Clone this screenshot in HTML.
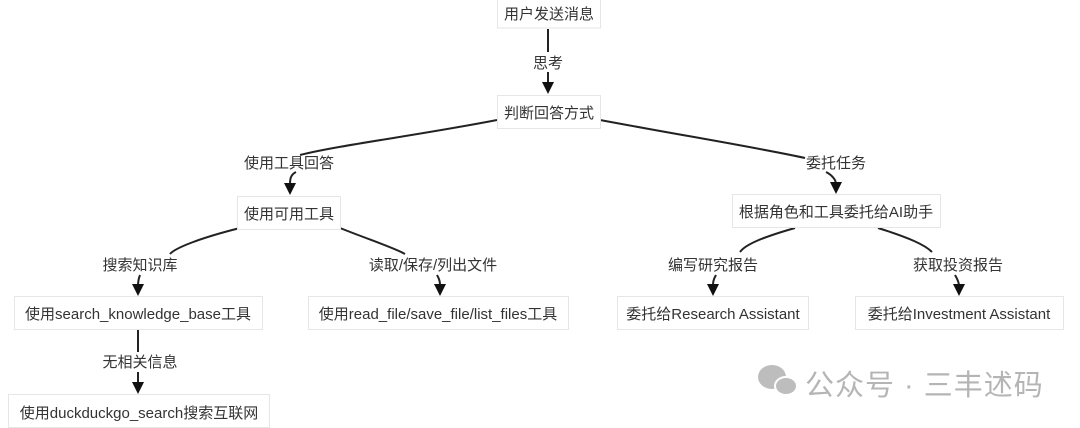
<!DOCTYPE html>
<html><head><meta charset="utf-8"><style>
html,body{margin:0;padding:0;background:#fff;}
svg{display:block;}
text{font-family:"Liberation Sans","Noto Sans CJK SC",sans-serif;font-size:15px;fill:#333;}
.b{fill:#fff;stroke:#e6e6e6;stroke-width:1;}
.l{fill:none;stroke:#222;stroke-width:2;}
</style></head><body>
<svg width="1080" height="428" viewBox="0 0 1080 428" xmlns="http://www.w3.org/2000/svg">
<path class="l" d="M548,29 L548,52"/>
<path class="l" d="M548,72 L548,84"/><path d="M542,82 L554,82 L548,94 z" fill="#111"/>
<path class="l" d="M497,120 C420,135 340,145 300,155"/>
<path class="l" d="M296,172 C290,175 290,180 290,185"/><path d="M284,183 L296,183 L290,195 z" fill="#111"/>
<path class="l" d="M600,120 C680,135 760,148 805,158"/>
<path class="l" d="M826,172 C832,175 836,180 836,184"/><path d="M830,182 L842,182 L836,194 z" fill="#111"/>
<path class="l" d="M240,228 C200,238 175,248 170,254"/>
<path class="l" d="M140,275 C138,280 138,283 138,286"/><path d="M132,284 L144,284 L138,296 z" fill="#111"/>
<path class="l" d="M340,228 C370,240 395,248 405,254"/>
<path class="l" d="M437,275 C440,280 440,283 440,286"/><path d="M434,284 L446,284 L440,296 z" fill="#111"/>
<path class="l" d="M795,228 C760,238 745,245 740,252"/>
<path class="l" d="M716,275 C713,280 713,283 713,286"/><path d="M707,284 L719,284 L713,296 z" fill="#111"/>
<path class="l" d="M878,228 C910,238 925,245 932,252"/>
<path class="l" d="M955,275 C958,280 959,283 959,286"/><path d="M953,284 L965,284 L959,296 z" fill="#111"/>
<path class="l" d="M138,329 L138,352"/>
<path class="l" d="M138,372 L138,384"/><path d="M132,382 L144,382 L138,394 z" fill="#111"/>
<rect class="b" x="497.5" y="-1" width="103" height="29"/><text x="549" y="19" text-anchor="middle">用户发送消息</text>
<rect class="b" x="497.5" y="95.5" width="103" height="33"/><text x="549" y="118" text-anchor="middle">判断回答方式</text>
<rect class="b" x="237.5" y="196.5" width="103" height="33"/><text x="289" y="219" text-anchor="middle">使用可用工具</text>
<rect class="b" x="732.5" y="194.5" width="208" height="33"/><text x="836" y="217" text-anchor="middle">根据角色和工具委托给AI助手</text>
<rect class="b" x="14.5" y="296.5" width="248" height="33"/><text x="138" y="319" text-anchor="middle">使用search_knowledge_base工具</text>
<rect class="b" x="308.5" y="296.5" width="260" height="33"/><text x="438" y="319" text-anchor="middle">使用read_file/save_file/list_files工具</text>
<rect class="b" x="617.5" y="296.5" width="191" height="33"/><text x="713" y="319" text-anchor="middle">委托给Research Assistant</text>
<rect class="b" x="855.5" y="296.5" width="208" height="33"/><text x="959" y="319" text-anchor="middle">委托给Investment Assistant</text>
<rect class="b" x="8.5" y="394.5" width="261" height="33"/><text x="139" y="418" text-anchor="middle">使用duckduckgo_search搜索互联网</text>
<text x="548" y="68" text-anchor="middle">思考</text>
<text x="289" y="168" text-anchor="middle">使用工具回答</text>
<text x="836" y="168" text-anchor="middle">委托任务</text>
<text x="140" y="270" text-anchor="middle">搜索知识库</text>
<text x="433" y="270" text-anchor="middle">读取/保存/列出文件</text>
<text x="713" y="270" text-anchor="middle">编写研究报告</text>
<text x="958" y="270" text-anchor="middle">获取投资报告</text>
<text x="140" y="367" text-anchor="middle">无相关信息</text>
<g fill="#bdbdbd">
<ellipse cx="772" cy="377" rx="14" ry="12"/>
<ellipse cx="786" cy="386" rx="11" ry="9" stroke="#fff" stroke-width="2"/>
</g>
<text x="805" y="395" style="font-size:29px;fill:#b5b5b5;letter-spacing:1px">公众号 · 三丰述码</text>
</svg>
</body></html>
